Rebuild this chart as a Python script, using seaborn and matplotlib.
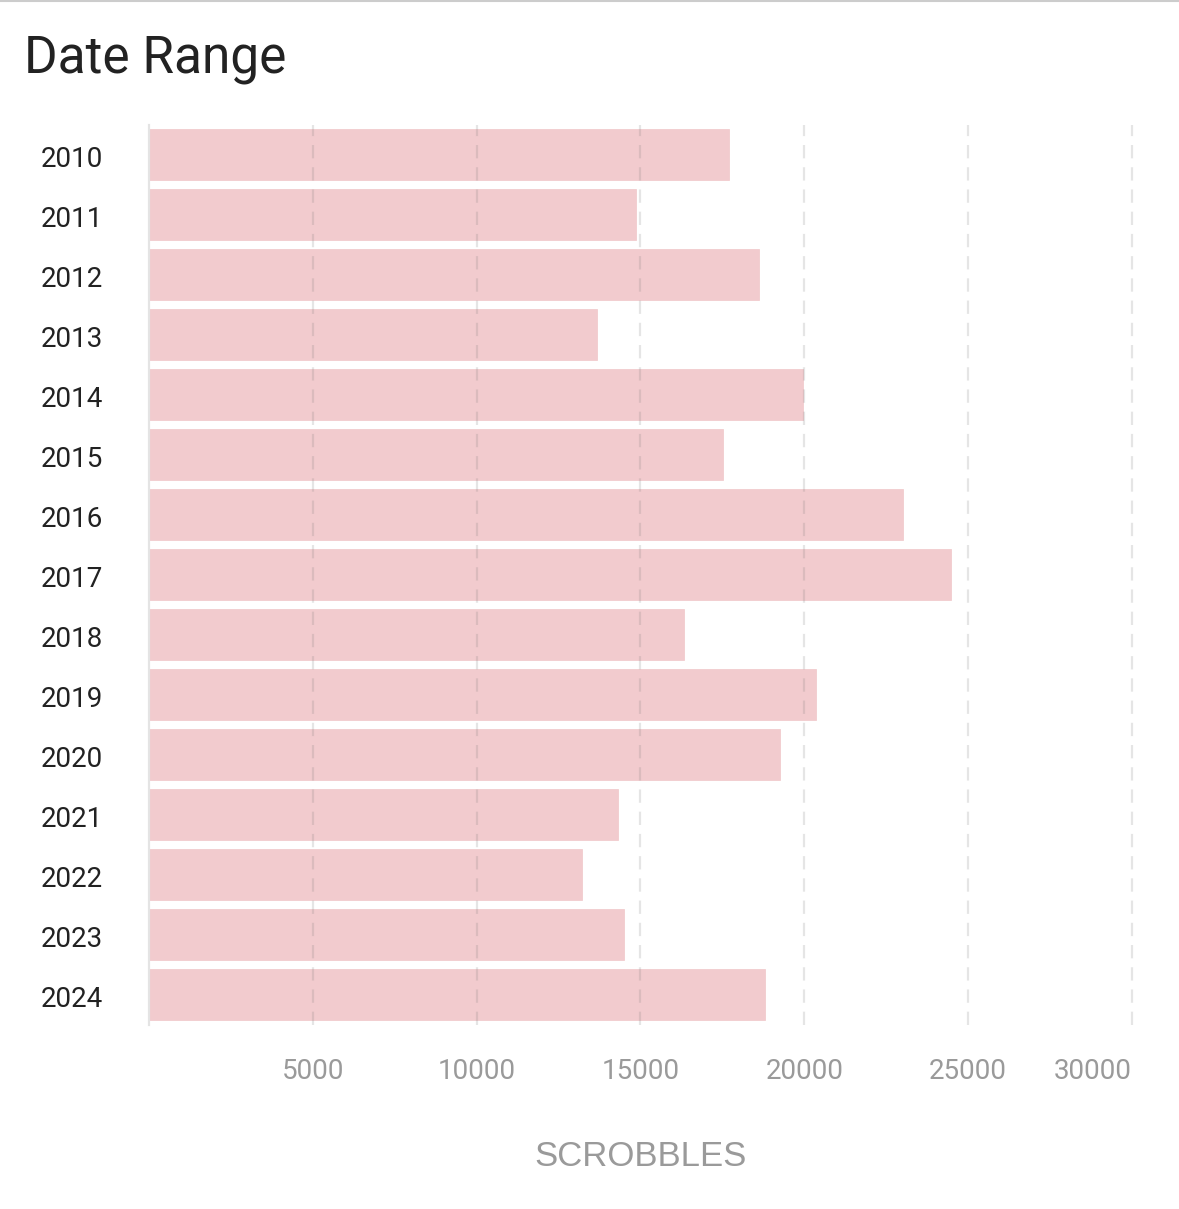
import matplotlib
matplotlib.use("Agg")
import matplotlib.pyplot as plt
from matplotlib.lines import Line2D
import matplotlib.transforms as mtransforms
import seaborn as sns
import pandas as pd

years = ["2010", "2011", "2012", "2013", "2014", "2015", "2016", "2017",
         "2018", "2019", "2020", "2021", "2022", "2023", "2024"]
scrobbles = [17710, 14870, 18630, 13680, 19970, 17530, 23020, 24490,
             16340, 20370, 19270, 14320, 13220, 14500, 18810]
xticks = [5000, 10000, 15000, 20000, 25000, 30000]
xtick_labels = ["5000", "10000", "15000", "20000", "25000", "30000"]

df = pd.DataFrame({"year": years, "scrobbles": scrobbles})

sns.set_theme(style="white")
plt.rcParams["font.family"] = ["Roboto", "DejaVu Sans"]

fig = plt.figure(figsize=(11.79, 12.09), dpi=100)
ax = fig.add_axes([0.1264, 0.1526, 0.8337, 0.7444])

sns.barplot(data=df, x="scrobbles", y="year", color="#f2cbce", saturation=1,
            width=0.85, edgecolor="#f0c6c9", linewidth=0.5, ax=ax, zorder=1)

ax.set_xlim(0, 30000)
ax.set_xticks(xticks)
ax.set_xticklabels(xtick_labels)
ax.tick_params(axis="x", length=0, pad=24, labelsize=20, labelcolor="#9a9a9a")
ax.tick_params(axis="y", length=0, pad=33, labelsize=20, labelcolor="#222222")
offset = mtransforms.ScaledTranslation(0, -2 / 100, fig.dpi_scale_trans)
for lbl in ax.get_yticklabels():
    lbl.set_horizontalalignment("right")
    lbl.set_transform(lbl.get_transform() + offset)
xl = ax.get_xticklabels()
xl[-1].set_horizontalalignment("right")

for xv in xticks:
    ax.axvline(xv, color=(0.45, 0.45, 0.45), alpha=0.18, lw=1.6,
               linestyle=(0, (6, 4)), zorder=3, clip_on=False)

for s in ["top", "right", "bottom"]:
    ax.spines[s].set_visible(False)
ax.spines["left"].set_color("#e4e4e4")
ax.spines["left"].set_linewidth(1.6)

ax.set_ylabel("")
ax.set_xlabel("SCROBBLES", fontsize=25, color="#9a9a9a",
              family=["Liberation Sans", "DejaVu Sans"], labelpad=40)

fig.text(24 / 1179, 1 - 59 / 1209, "Date Range", fontsize=37, color="#222222",
         ha="left", va="center")
fig.add_artist(Line2D([0, 1], [0.9992, 0.9992], color="#cccccc", lw=1.5))

fig.savefig("out.png", dpi=100, facecolor="white")
